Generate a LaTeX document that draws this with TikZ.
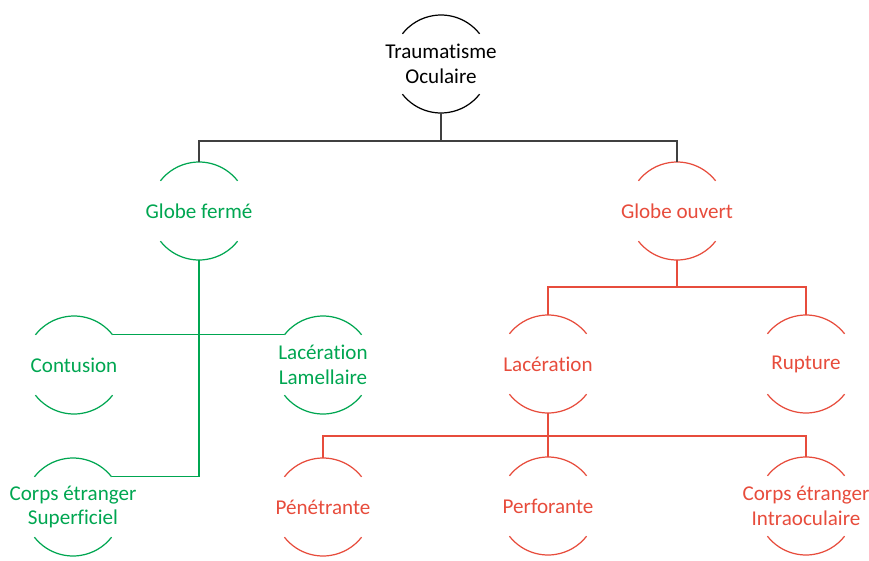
\documentclass[tikz,border=0pt]{standalone}
\usepackage{fontspec}
\setmainfont{Carlito}[Ligatures=NoCommon]
\usepackage{tikz}
\usetikzlibrary{calc}
\definecolor{closedgreen}{RGB}{0,166,81}
\definecolor{openred}{RGB}{231,76,60}
\definecolor{rootgray}{RGB}{64,64,64}
\tikzset{
  bub/.style={align=center, font=\fontsize{12}{14.2}\selectfont, inner sep=1pt},
  gbub/.style={bub, text=closedgreen},
  rbub/.style={bub, text=openred},
  wire/.style={line width=0.7pt},
}

\begin{document}
\begin{tikzpicture}[x=0.02cm, y=-0.02cm]
  \useasboundingbox (0,0) rectangle (869,561);
  % nodes
  \node[bub] (root) at (441,64) {Traumatisme\\Oculaire};
  \node[gbub] (gf) at (199,211) {Globe fermé};
  \node[rbub] (go) at (677,211) {Globe ouvert};
  \node[gbub] (cont) at (74,365) {Contusion};
  \node[gbub] (lacl) at (323,365) {Lacération\\Lamellaire};
  \node[gbub] (cesup) at (73,507) {Corps étranger\\Superficiel};
  \node[rbub] (lac) at (548,364) {Lacération};
  \node[rbub] (rup) at (806,364) {Rupture};
  \node[rbub] (pen) at (323,507) {Pénétrante};
  \node[rbub] (perf) at (548,506) {Perforante};
  \node[rbub] (ceio) at (806,506) {Corps étranger\\Intraoculaire};
  % open circles round each node
  \foreach \n/\c in {root/black, gf/closedgreen, go/openred, cont/closedgreen,
                     lacl/closedgreen, cesup/closedgreen, lac/openred, rup/openred,
                     pen/openred, perf/openred, ceio/openred} {
    \draw[wire, \c] ($(\n)+(38:0.98cm)$) arc[start angle=38, end angle=142, radius=0.98cm];
    \draw[wire, \c] ($(\n)+(218:0.98cm)$) arc[start angle=218, end angle=322, radius=0.98cm];
    \coordinate (\n-t) at ($(\n)+(90:0.98cm)$);
    \coordinate (\n-b) at ($(\n)+(270:0.98cm)$);
    \coordinate (\n-r) at ($(\n)+(38:0.98cm)$);
    \coordinate (\n-l) at ($(\n)+(142:0.98cm)$);
  }
  % connectors
  \draw[wire, rootgray] (root-b) -- ++(0,28) -| (gf-t);
  \draw[wire, rootgray] (root-b) -- ++(0,28) -| (go-t);
  \draw[wire, closedgreen] (cont-r) -- (lacl-l);
  \draw[wire, closedgreen] (gf-b) |- (cesup-r);
  \draw[wire, openred] (go-b) -- ++(0,27) -| (lac-t);
  \draw[wire, openred] (go-b) -- ++(0,27) -| (rup-t);
  \draw[wire, openred] (lac-b) -- ++(0,23) -| (pen-t);
  \draw[wire, openred] (lac-b) -- ++(0,23) -| (perf-t);
  \draw[wire, openred] (lac-b) -- ++(0,23) -| (ceio-t);
\end{tikzpicture}
\end{document}
